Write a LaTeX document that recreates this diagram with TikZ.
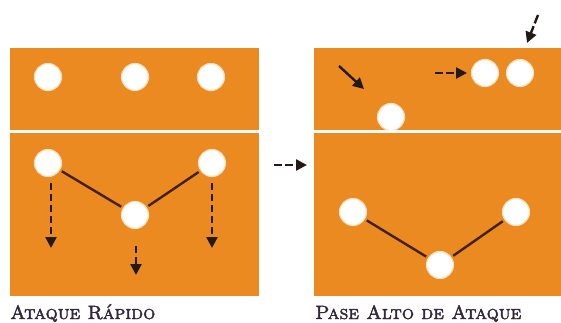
\documentclass[tikz,border=0pt]{standalone}
\usetikzlibrary{arrows.meta}
\definecolor{court}{RGB}{234,138,32}
\definecolor{ink}{RGB}{35,25,22}
\definecolor{lineb}{RGB}{65,32,14}
\definecolor{txt}{RGB}{50,40,62}
\definecolor{rim}{RGB}{250,222,185}
\newcommand{\heavytext}[1]{\special{pdf:literal 2 Tr 0.45 w}#1\special{pdf:literal 0 Tr 1 w}}
\tikzset{
  x=1pt,y=-1pt,
  courtbox/.style={fill=court,draw=none},
  netline/.style={white,line width=3pt},
  player/.style={circle,fill=white,draw=rim,line width=1.2pt,minimum size=27pt,inner sep=0pt},
  link/.style={lineb,line width=2.4pt,shorten <=2pt,shorten >=2pt},
  mv/.style={ink,line width=2.4pt,dash pattern=on 7pt off 4pt,-{Triangle[length=11pt,width=11pt]}},
  mvs/.style={ink,line width=2.4pt,-{Triangle[length=11pt,width=11pt]}},
  caption/.style={anchor=base west,inner sep=0pt,text=txt,font=\fontsize{19.2}{22}\selectfont}
}
\begin{document}
\begin{tikzpicture}
\useasboundingbox (0,0) rectangle (561,322);
% left court
\fill[courtbox] (10,48) rectangle (259,296);
\draw[netline] (10,131) -- (259,131);
\node[player] (a1) at (48,77) {};
\node[player] (a2) at (135,77) {};
\node[player] (a3) at (211,77) {};
\node[player] (b1) at (48,163) {};
\node[player] (b2) at (135,215) {};
\node[player] (b3) at (212,163) {};
\draw[link] (b1) -- (b2);
\draw[link] (b3) -- (b2);
\coordinate (d1s) at (51,183); \coordinate (d1e) at (51,248);
\coordinate (d3s) at (212,183); \coordinate (d3e) at (212,248);
\coordinate (d2s) at (136,246); \coordinate (d2e) at (136,275);
\draw[mv] (d1s) -- (d1e);
\draw[mv] (d3s) -- (d3e);
\draw[mv] (d2s) -- (d2e);
% arrow between
\coordinate (m1) at (274,165); \coordinate (m2) at (307,165);
\draw[mv,dash pattern=on 8pt off 3pt] (m1) -- (m2);
% right court
\fill[courtbox] (314,48) rectangle (561,296);
\node[player] (c1) at (391,117) {};
\node[player] (c2) at (485,73) {};
\node[player] (c3) at (520,73) {};
\draw[netline] (314,131) -- (561,131);
\node[player] (e1) at (353,212) {};
\node[player] (e2) at (440,265) {};
\node[player] (e3) at (516,212) {};
\draw[link] (e1) -- (e2);
\draw[link] (e3) -- (e2);
\coordinate (r1s) at (339,66); \coordinate (r1e) at (364,89);
\draw[mvs] (r1s) -- (r1e);
\coordinate (r2s) at (435,73); \coordinate (r2e) at (467,73);
\draw[mv,dash pattern=on 8pt off 3pt] (r2s) -- (r2e);
\coordinate (r3s) at (538,15); \coordinate (r3e) at (527,43);
\draw[mv,dash pattern=on 9pt off 3pt] (r3s) -- (r3e);
% captions
\node[caption] (capL) at (10,319) {\heavytext{\textsc{Ataque Rápido}}};
\node[caption] (capR) at (315,319) {\heavytext{\textsc{Pase Alto de Ataque}}};
\end{tikzpicture}
\end{document}
